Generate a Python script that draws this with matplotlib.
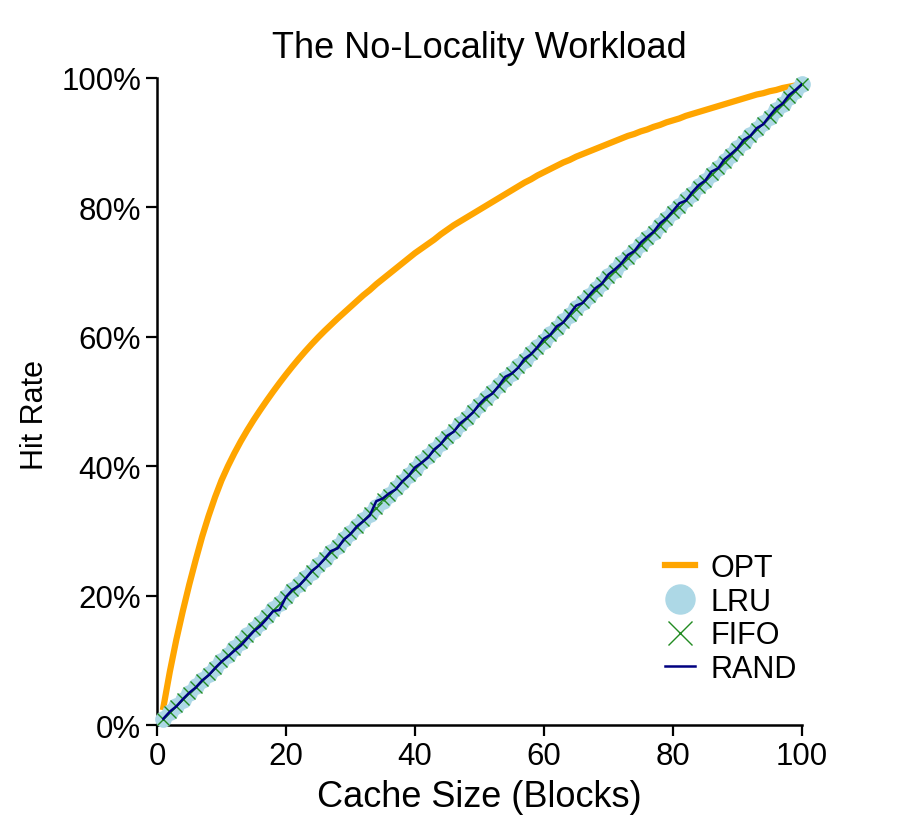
import matplotlib
matplotlib.use("Agg")
import matplotlib.pyplot as plt
from matplotlib.ticker import PercentFormatter

plt.rcParams['font.family'] = ['Liberation Sans', 'DejaVu Sans']

# tamaño de la cache (bloques)
cache_size = list(range(1, 101))

# tasas de acierto (%)
opt = [2.8, 8.3, 13.2, 17.6, 21.7, 25.5, 29.1, 32.3, 35.2, 37.8,
       40.0, 42.0, 43.85, 45.55, 47.15, 48.65, 50.1, 51.5, 52.85, 54.15,
       55.4, 56.6, 57.75, 58.85, 59.9, 60.9, 61.85, 62.8, 63.7, 64.6,
       65.5, 66.4, 67.2, 68.1, 68.9, 69.7, 70.5, 71.3, 72.1, 72.9,
       73.6, 74.3, 75.0, 75.8, 76.5, 77.2, 77.8, 78.4, 79.0, 79.6,
       80.2, 80.8, 81.4, 82.0, 82.6, 83.2, 83.8, 84.3, 84.9, 85.4,
       85.9, 86.4, 86.9, 87.3, 87.8, 88.2, 88.6, 89.0, 89.4, 89.8,
       90.2, 90.6, 91.0, 91.3, 91.7, 92.0, 92.4, 92.7, 93.1, 93.4,
       93.7, 94.1, 94.4, 94.7, 95.0, 95.3, 95.6, 95.9, 96.2, 96.5,
       96.8, 97.1, 97.4, 97.6, 97.9, 98.1, 98.4, 98.6, 98.8, 99.0]

lru = [1.0, 2.0, 3.0, 3.9, 4.9, 6.0, 6.9, 7.9, 8.9, 9.9,
       10.9, 11.9, 12.8, 13.9, 14.9, 15.8, 16.8, 17.9, 18.8, 19.8,
       20.8, 21.8, 22.8, 23.7, 24.8, 25.7, 26.8, 27.7, 28.7, 29.7,
       30.7, 31.7, 32.6, 33.7, 34.6, 35.6, 36.6, 37.6, 38.6, 39.6,
       40.6, 41.6, 42.5, 43.6, 44.5, 45.5, 46.5, 47.5, 48.5, 49.5,
       50.5, 51.4, 52.5, 53.4, 54.4, 55.5, 56.4, 57.4, 58.4, 59.4,
       60.4, 61.4, 62.4, 63.3, 64.4, 65.3, 66.3, 67.3, 68.3, 69.3,
       70.3, 71.3, 72.3, 73.2, 74.3, 75.2, 76.2, 77.2, 78.2, 79.2,
       80.2, 81.2, 82.1, 83.2, 84.1, 85.1, 86.1, 87.1, 88.1, 89.1,
       90.1, 91.1, 92.0, 93.0, 94.0, 95.0, 96.0, 97.0, 98.0, 99.0]

fifo = [1.0, 2.0, 2.9, 4.0, 4.9, 5.9, 6.9, 7.9, 8.9, 9.9,
        10.9, 11.8, 12.9, 13.8, 14.8, 15.8, 16.9, 17.8, 18.8, 19.8,
        20.8, 21.7, 22.8, 23.8, 24.7, 25.8, 26.7, 27.7, 28.7, 29.7,
        30.6, 31.7, 32.7, 33.6, 35.0, 35.6, 36.6, 37.7, 38.6, 39.6,
        40.6, 41.5, 42.5, 43.5, 44.5, 45.6, 46.5, 47.5, 48.5, 49.5,
        50.4, 51.5, 52.4, 53.4, 54.4, 55.3, 56.4, 57.4, 58.3, 59.4,
        60.3, 61.4, 62.3, 63.3, 64.3, 65.3, 66.3, 67.2, 68.3, 69.2,
        70.2, 71.3, 72.2, 73.2, 74.2, 75.2, 76.2, 77.1, 78.2, 79.2,
        80.1, 81.1, 82.1, 83.1, 84.1, 85.1, 86.1, 87.0, 88.1, 89.0,
        90.1, 91.0, 92.0, 93.0, 94.0, 95.0, 96.0, 97.0, 98.0, 99.0]

rand = [1.0, 2.1, 2.9, 4.0, 5.0, 5.8, 6.9, 7.7, 8.8, 9.8,
        10.6, 11.5, 12.3, 13.4, 14.5, 15.3, 16.4, 17.6, 17.8, 19.8,
        20.9, 21.5, 22.6, 23.8, 24.6, 25.7, 26.9, 27.3, 28.7, 29.5,
        30.7, 31.5, 32.4, 34.6, 35.0, 35.8, 36.4, 37.6, 38.5, 39.8,
        40.5, 41.3, 42.6, 43.4, 44.7, 45.3, 46.6, 47.4, 48.3, 49.6,
        50.6, 51.2, 52.4, 53.8, 54.3, 55.2, 56.6, 57.3, 58.4, 59.7,
        60.3, 61.6, 62.2, 63.5, 64.8, 65.2, 66.4, 67.5, 68.2, 69.6,
        70.4, 71.3, 72.6, 73.2, 74.5, 75.4, 76.2, 77.5, 78.3, 79.4,
        80.6, 81.0, 82.3, 83.4, 84.1, 85.5, 86.0, 87.4, 88.2, 89.1,
        90.4, 91.0, 92.2, 92.8, 94.1, 95.3, 96.0, 97.3, 98.1, 99.0]

fig = plt.figure(figsize=(8.97, 8.28), dpi=100)
ax = fig.add_axes([0.175, 0.123, 0.719, 0.782])

ax.plot(cache_size, opt, color='orange', linewidth=4.5, label='OPT', zorder=2)
ax.plot(cache_size, lru, linestyle='none', marker='o', markersize=11,
        color='lightblue', label='LRU', zorder=3, clip_on=False)
ax.plot(cache_size, fifo, linestyle='none', marker='x', markersize=9,
        markeredgewidth=1.0, color='forestgreen', label='FIFO', zorder=4, clip_on=False)
ax.plot(cache_size, rand, color='navy', linewidth=1.8, label='RAND', zorder=5)

ax.set_xlim(0, 100)
ax.set_ylim(0, 100)
ax.yaxis.set_major_formatter(PercentFormatter(100, decimals=0))
ax.set_xticks([0, 20, 40, 60, 80, 100])
ax.set_yticks([0, 20, 40, 60, 80, 100])

ax.spines['top'].set_visible(False)
ax.spines['right'].set_visible(False)
for s in ['left', 'bottom']:
    ax.spines[s].set_linewidth(1.8)
ax.tick_params(direction='out', length=8, width=1.6, labelsize=22.5)

ax.set_title('The No-Locality Workload', fontsize=26, pad=15)
ax.set_xlabel('Cache Size (Blocks)', fontsize=26, labelpad=6)
ax.set_ylabel('Hit Rate', fontsize=22)
ax.yaxis.set_label_coords(-0.166, 0.48)

ax.legend(loc='lower right', bbox_to_anchor=(1.035, 0.021), frameon=False,
          fontsize=22, handlelength=1.0, handletextpad=0.5, markerscale=1.9,
          labelspacing=0.12)

plt.savefig('out.png', dpi=100)
